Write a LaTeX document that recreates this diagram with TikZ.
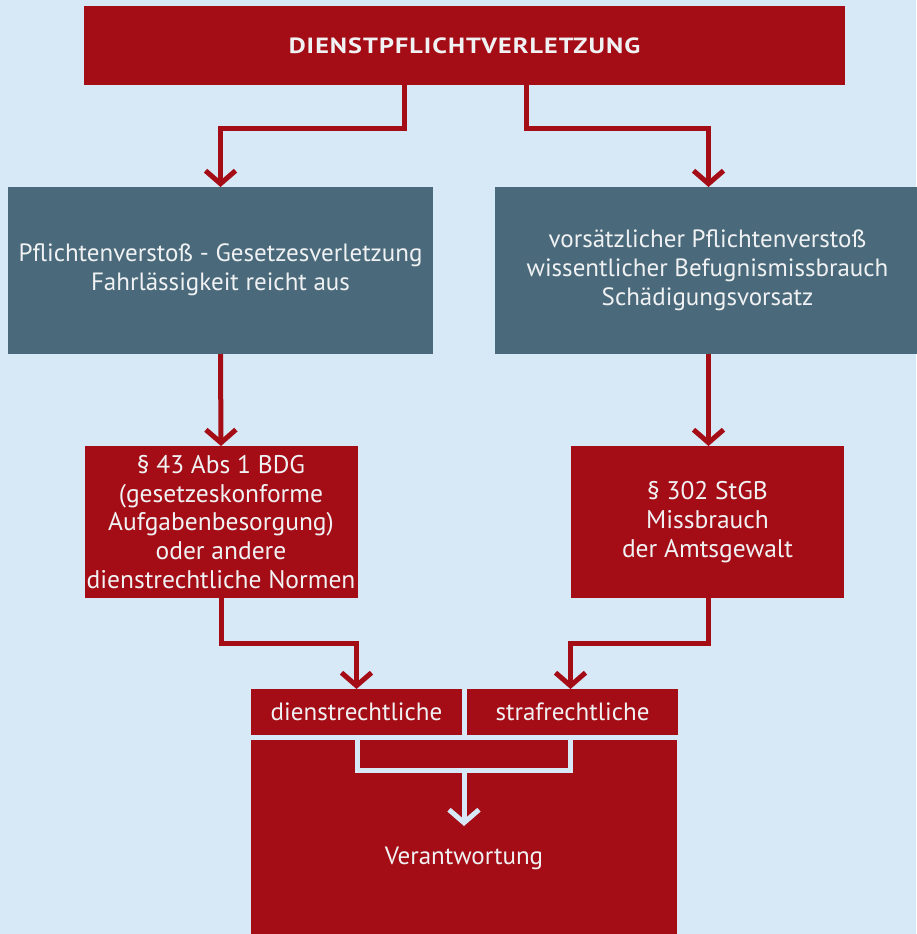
\documentclass[tikz,border=0pt]{standalone}
\usepackage{fontspec}
\setmainfont{PT Sans}
\usetikzlibrary{arrows.meta}
\definecolor{bgblue}{HTML}{D7E8F6}
\definecolor{dkred}{HTML}{A50D16}
\definecolor{slate}{HTML}{4A6A7B}
\definecolor{txt}{HTML}{F0F1F3}
\tikzset{
  box/.style={rectangle, inner sep=0pt, outer sep=0pt, text=txt, align=center},
  redbox/.style={box, fill=dkred},
  slatebox/.style={box, fill=slate},
  bodytext/.style={font=\fontsize{25}{29}\selectfont},
  lawtext/.style={font=\fontsize{25.5}{28.7}\selectfont},
  redline/.style={draw=dkred, line width=5pt, line join=miter,
    -{Straight Barb[length=13pt, width=30pt, line width=5pt]}},
  paleline/.style={draw=bgblue, line width=5pt, line join=miter},
}
\begin{document}
\begin{tikzpicture}[x=1pt, y=-1pt]
  \useasboundingbox[fill=bgblue] (0,0) rectangle (916,934);
  % header
  \node[redbox, minimum width=761pt, minimum height=79pt] (top) at (464.5,45.5) {};
  \node[box, font=\fontsize{22}{25}\bfseries\selectfont] (title) at (464.5,45.5)
    {\scalebox{1.19}[1]{\addfontfeatures{LetterSpace=4}DIENSTPFLICHTVERLETZUNG}};
  % the two branches
  \node[slatebox, bodytext, minimum width=425pt, minimum height=167pt] (gl) at (220.5,270.5)
    {\raisebox{-3pt}{\begin{tabular}{@{}c@{}}Pflichtenverstoß - Gesetzesverletzung\\Fahrlässigkeit reicht aus\end{tabular}}};
  \node[slatebox, bodytext, minimum width=425pt, minimum height=167pt] (gr) at (707.5,270.5)
    {vorsätzlicher Pflichtenverstoß\\wissentlicher Befugnismissbrauch\\Schädigungsvorsatz};
  \node[redbox, lawtext, minimum width=273pt, minimum height=152pt] (rl) at (221,522)
    {§ 43 Abs 1 BDG\\(gesetzeskonforme\\Aufgabenbesorgung)\\oder andere\\dienstrechtliche Normen};
  \node[redbox, lawtext, minimum width=273pt, minimum height=152pt] (rr) at (707.5,522)
    {§ 302 StGB\\Missbrauch\\der Amtsgewalt};
  % result
  \node[redbox, bodytext, minimum width=211pt, minimum height=46pt] (sd) at (356.5,712) {dienstrechtliche};
  \node[redbox, bodytext, minimum width=211pt, minimum height=46pt] (ss) at (572.5,712) {strafrechtliche};
  \node[redbox, minimum width=426pt, minimum height=200pt] (big) at (464,840) {};
  \node[box, bodytext] (vw) at (464,858) {Verantwortung};
  % connectors
  \draw[redline] ([xshift=-60.5pt]top.south) -- ++(0,43) -| (gl.north);
  \draw[redline] ([xshift=61.5pt]top.south) -- ++(0,43) -| ([xshift=1pt]gr.north);
  \draw[redline] (gl.south) -- (rl.north);
  \draw[redline] ([xshift=1pt]gr.south) -- ([xshift=1pt]rr.north);
  \draw[redline] (rl.south) -- ++(0,45) -| (sd.north);
  \draw[redline] ([xshift=1pt]rr.south) -- ++(0,45) -| ([xshift=-2pt]ss.north);
  \coordinate (jl) at ([xshift=1pt]sd.south |- big.north);
  \coordinate (jr) at ([xshift=-2pt]ss.south |- big.north);
  \draw[paleline] (jl) -- ++(0,30.5) -| (jr);
  \draw[paleline, -{Straight Barb[length=13pt, width=30pt, line width=5pt]}]
    (big.north |- 0,770.5) -- (464,826);
\end{tikzpicture}
\end{document}
